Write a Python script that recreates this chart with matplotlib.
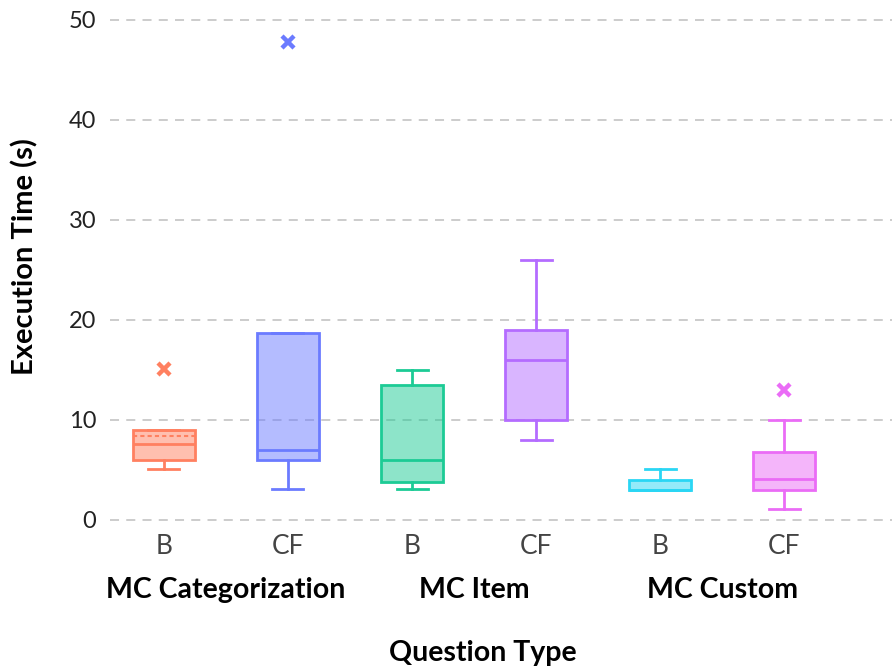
import matplotlib.pyplot as plt
from matplotlib.colors import to_rgba

plt.rcParams["font.family"] = ["Lato", "DejaVu Sans"]

# ─────────────────────────────────────────────────────────────────────────────
# DATA  (box summary, seconds)
# ─────────────────────────────────────────────────────────────────────────────
GROUPS    = ["MC Categorization", "MC Item", "MC Custom"]
CONDS     = ["B", "CF", "B", "CF", "B", "CF"]
Q1        = [6.0, 6.0, 3.8, 10.0, 3.0, 3.0]
MEDIAN    = [7.6, 7.0, 6.0, 16.0, 3.0, 4.1]
Q3        = [9.0, 18.7, 13.5, 19.0, 4.0, 6.8]
WHISK_LO  = [5.1, 3.1, 3.1, 8.0, 3.0, 1.1]
WHISK_HI  = [9.0, 18.7, 15.0, 26.0, 5.1, 10.0]
MEANS     = [8.4, None, None, None, None, None]
OUTLIERS  = [[15.1], [47.8], [], [], [], [13.0]]

COLORS = ["#FF8060", "#6B7BFF", "#1CCB95", "#B46CFF", "#2AD6F4", "#EA6CF6"]

stats = []
for i in range(len(CONDS)):
    stats.append(dict(q1=Q1[i], med=MEDIAN[i], q3=Q3[i],
                      whislo=WHISK_LO[i], whishi=WHISK_HI[i],
                      fliers=OUTLIERS[i], mean=MEANS[i] if MEANS[i] else MEDIAN[i]))

fig = plt.figure(figsize=(8.92, 6.69), dpi=100)
ax = fig.add_axes([110 / 892, 1 - 530 / 669, 782 / 892, 525 / 669])

pos = list(range(1, len(CONDS) + 1))
for i, s in enumerate(stats):
    c = COLORS[i]
    show_mean = MEANS[i] is not None
    ax.bxp([s], positions=[pos[i]], widths=0.5, patch_artist=True,
           showmeans=show_mean, meanline=True,
           boxprops=dict(facecolor=to_rgba(c, 0.5), edgecolor=c, linewidth=2),
           medianprops=dict(color=c, linewidth=2),
           meanprops=dict(color=c, linewidth=1.5, linestyle=(0, (2, 1.5))),
           whiskerprops=dict(color=c, linewidth=2),
           capprops=dict(color=c, linewidth=2),
           capwidths=0.25,
           flierprops=dict(marker="x", markeredgecolor=c, markersize=9,
                           markeredgewidth=3.2, linestyle="none"))

ax.set_xlim(0.565, 6.87)
ax.set_ylim(-1, 51.5)
ax.set_yticks([0, 10, 20, 30, 40, 50])
ax.set_xticks(pos)
ax.set_xticklabels(CONDS, fontsize=19, color="#444444")
ax.tick_params(axis="y", length=0, pad=10, labelsize=17, labelcolor="#222222")
ax.tick_params(axis="x", length=0, pad=3)

ax.grid(axis="y", color="#c8c8c8", linestyle=(0, (5, 4)), linewidth=1.3)
ax.set_axisbelow(True)
for sp in ax.spines.values():
    sp.set_visible(False)

ax.set_ylabel("Execution Time (s)", fontsize=21, fontweight="bold")
ax.yaxis.set_label_coords(-0.091, 0.52)

# group labels under each pair of boxes
for g, name in enumerate(GROUPS):
    xc = (pos[2 * g] + pos[2 * g + 1]) / 2
    ax.text(xc, -7.0, name, ha="center", va="center", fontsize=20.5,
            fontweight="bold", transform=ax.transData)

fig.text(483 / 892, 1 - 653 / 669, "Question Type", ha="center", va="center",
         fontsize=20.5, fontweight="bold")

fig.savefig("out.png", dpi=100)
